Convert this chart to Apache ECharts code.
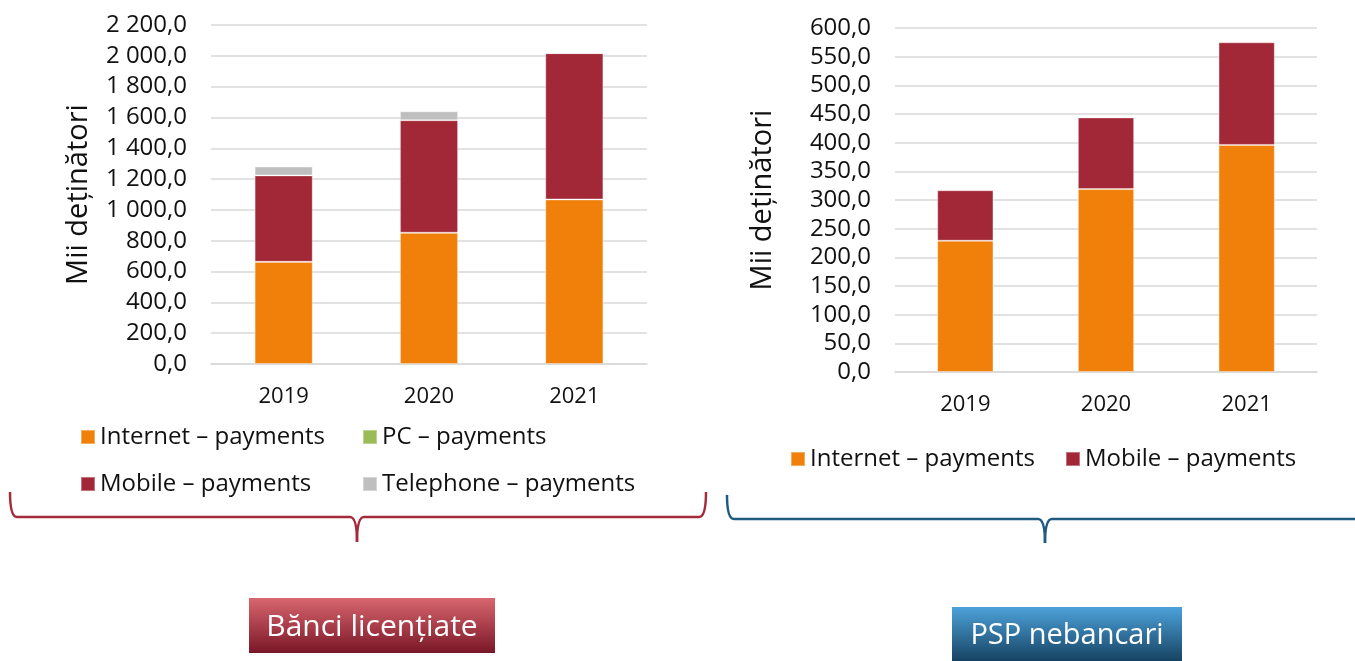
<!DOCTYPE html>
<html>
<head>
<meta charset="utf-8">
<script src="https://cdn.jsdelivr.net/npm/echarts@6/dist/echarts.min.js"></script>
<style>
  html, body { margin: 0; padding: 0; background: #ffffff; }
  #chart { width: 1355px; height: 661px; }
</style>
</head>
<body>
<div id="chart"></div>
<script>
// Years shown on both panels
const years = ['2019', '2020', '2021'];

// Licensed banks (thousand holders)
const bankInternet = [663, 852, 1068];
const bankPC = [0, 0, 0];
const bankMobile = [561, 730, 949];
const bankTelephone = [57, 58, 0];

// Non-bank PSPs (thousand holders)
const pspInternet = [229, 319, 396];
const pspMobile = [88, 125, 179];

const seriesNames = ['Internet – payments', 'PC – payments', 'Mobile – payments', 'Telephone – payments'];
const colors = {
  internet: '#f0800a',
  pc: '#9bbb59',
  mobile: '#a22838',
  telephone: '#bfbfbf'
};
const axisTitle = 'Mii deținători';
const panelTitles = ['Bănci licențiate', 'PSP nebancari'];

const FONT = '"Open Sans"';
// 1 234,5 style: comma decimal, space between thousands
const fmt = v => {
  const s = v.toFixed(1).replace('.', ',');
  const [i, d] = s.split(',');
  return i.replace(/\B(?=(\d{3})+(?!\d))/g, '\u00a0') + ',' + d;
};

const gridLine = { lineStyle: { color: '#d9d9d9', width: 1.5 } };

function yAx(gridIndex, max, interval, nameGap, labelSize) {
  return {
    type: 'value', gridIndex, min: 0, max, interval,
    name: axisTitle, nameLocation: 'middle', nameGap, nameRotate: 90,
    nameTextStyle: { fontFamily: FONT, fontSize: 29, color: '#111' },
    axisLabel: { formatter: fmt, fontFamily: FONT, fontSize: labelSize, color: '#111', margin: 24 },
    axisLine: { show: false }, axisTick: { show: false },
    splitLine: gridLine
  };
}
function xAx(gridIndex, margin) {
  return {
    type: 'category', gridIndex, data: years,
    axisLabel: { fontFamily: FONT, fontSize: 22, color: '#111', margin },
    axisLine: { lineStyle: { color: '#d9d9d9', width: 1.5 } },
    axisTick: { show: false }
  };
}
function bar(name, data, color, xi, stack) {
  return {
    type: 'bar', name, data, stack, xAxisIndex: xi, yAxisIndex: xi,
    barWidth: '40%',
    itemStyle: { color, borderColor: 'rgba(255,255,255,0.35)', borderWidth: 1 },
    emphasis: { disabled: true }
  };
}

// Curly brace: arms at x0/x1 (top at yTop), horizontal at yMid, tip at (xt, yTip)
function brace(x0, x1, xt, yTop, yMid, yTip, color, rightArm) {
  const st = { stroke: color, lineWidth: 2.5, fill: null };
  const r = 7;
  const els = [
    { type: 'bezierCurve', shape: { x1: x0, y1: yTop, cpx1: x0, cpy1: yMid, x2: x0 + r, y2: yMid }, style: st },
    { type: 'line', shape: { x1: x0 + r, y1: yMid, x2: xt - r, y2: yMid }, style: st },
    { type: 'bezierCurve', shape: { x1: xt - r, y1: yMid, cpx1: xt, cpy1: yMid, x2: xt, y2: yTip }, style: st },
    { type: 'bezierCurve', shape: { x1: xt, y1: yTip, cpx1: xt, cpy1: yMid, x2: xt + r, y2: yMid }, style: st }
  ];
  if (rightArm) {
    els.push({ type: 'line', shape: { x1: xt + r, y1: yMid, x2: x1 - r, y2: yMid }, style: st });
    els.push({ type: 'bezierCurve', shape: { x1: x1 - r, y1: yMid, cpx1: x1, cpy1: yMid, x2: x1, y2: yTop }, style: st });
  } else {
    els.push({ type: 'line', shape: { x1: xt + r, y1: yMid, x2: x1, y2: yMid }, style: st });
  }
  return els.map(e => Object.assign(e, { silent: true }));
}

const legendText = { fontFamily: FONT, fontSize: 24, color: '#111', width: 239, lineHeight: 22 };

const option = {
  animation: false,
  backgroundColor: '#ffffff',
  grid: [
    { left: 211, top: 25, width: 436, height: 339 },
    { left: 895, top: 28, width: 422, height: 344 }
  ],
  xAxis: [xAx(0, 22), xAx(1, 22)],
  yAxis: [yAx(0, 2200, 200, 118, 24), yAx(1, 600, 50, 118, 24)],
  legend: [
    {
      data: seriesNames, left: 80, top: 425, width: 560, padding: 0,
      itemWidth: 14, itemHeight: 14, itemGap: 23, icon: 'rect',
      textStyle: legendText, selectedMode: false
    },
    {
      data: [seriesNames[0], seriesNames[2]], left: 790, top: 447, width: 600, padding: 0,
      itemWidth: 14, itemHeight: 14, itemGap: 16, icon: 'rect',
      textStyle: legendText, selectedMode: false
    }
  ],
  series: [
    bar(seriesNames[0], bankInternet, colors.internet, 0, 'banks'),
    bar(seriesNames[1], bankPC, colors.pc, 0, 'banks'),
    bar(seriesNames[2], bankMobile, colors.mobile, 0, 'banks'),
    bar(seriesNames[3], bankTelephone, colors.telephone, 0, 'banks'),
    bar(seriesNames[0], pspInternet, colors.internet, 1, 'psp'),
    bar(seriesNames[2], pspMobile, colors.mobile, 1, 'psp')
  ],
  graphic: [
    ...brace(10, 706, 357, 492, 517, 542, '#a52a3a', true),
    ...brace(727, 1360, 1045, 495, 519, 543, '#1f5a80', false),
    // panel caption boxes
    {
      type: 'rect', silent: true,
      shape: { x: 249, y: 598, width: 246, height: 55 },
      style: {
        fill: new echarts.graphic.LinearGradient(0, 0, 0, 1, [
          { offset: 0, color: '#d8666f' }, { offset: 1, color: '#7a1726' }
        ])
      }
    },
    {
      type: 'text', silent: true, x: 372, y: 627,
      style: { text: panelTitles[0], fill: '#ffffff', font: '30px ' + FONT, align: 'center', verticalAlign: 'middle' }
    },
    {
      type: 'rect', silent: true,
      shape: { x: 952, y: 607, width: 230, height: 56 },
      style: {
        fill: new echarts.graphic.LinearGradient(0, 0, 0, 1, [
          { offset: 0, color: '#4ca2da' }, { offset: 1, color: '#153f5e' }
        ])
      }
    },
    {
      type: 'text', silent: true, x: 1067, y: 636,
      style: { text: panelTitles[1], fill: '#ffffff', font: '29px ' + FONT, align: 'center', verticalAlign: 'middle' }
    }
  ]
};

const chart = echarts.init(document.getElementById('chart'), null, { renderer: 'canvas' });
chart.setOption(option);
</script>
</body>
</html>
